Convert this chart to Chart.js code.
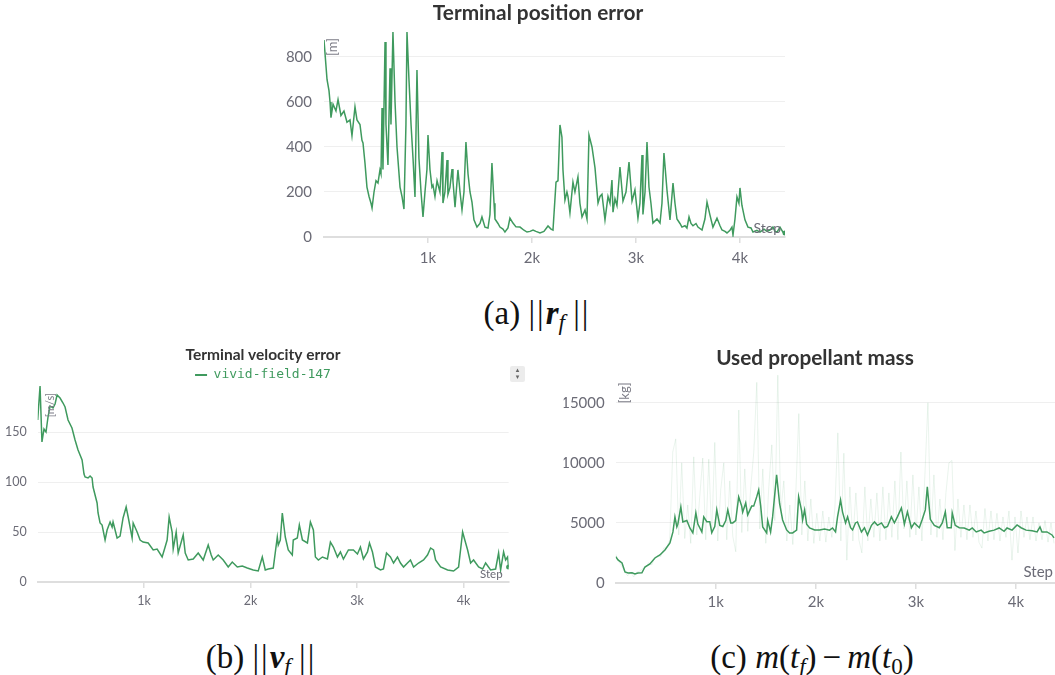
<!DOCTYPE html>
<html>
<head>
<meta charset="utf-8">
<script src="https://cdn.jsdelivr.net/npm/chart.js@4"></script>
<style>
  html, body { margin: 0; padding: 0; background: #fff; }
  body { width: 1055px; height: 675px; overflow: hidden; position: relative; }
  canvas { position: absolute; }
  .cap { position: absolute; text-align: center; font-family: "Liberation Serif", "DejaVu Serif", serif; font-size: 33px; color: #111; line-height: 36px; white-space: nowrap; }
  .cap sub { font-size: 0.7em; vertical-align: -0.25em; line-height: 0; }
  .cap .bars { letter-spacing: 2px; }
  .cap .op { margin: 0 6px; }
  .toggle { position: absolute; left: 510px; top: 366px; width: 15px; height: 16px; background: #ececec; border-radius: 2px;
            font: 7px/7px "DejaVu Sans", sans-serif; color: #666; text-align: center; padding-top: 1px; box-sizing: border-box; }
</style>
</head>
<body>
<canvas id="posChart" width="540" height="270" style="left:270px; top:0px"></canvas>
<canvas id="velChart" width="530" height="290" style="left:0px; top:335px"></canvas>
<canvas id="massChart" width="540" height="290" style="left:540px; top:335px"></canvas>
<div class="toggle">&#9652;<br>&#9662;</div>

<div class="cap" style="left:337px; top:295px; width:400px">(a) <span class="bars">||</span><b><i>r</i></b><sub><i>f</i></sub> <span class="bars">||</span></div>
<div class="cap" style="left:61px; top:639px; width:400px">(b) <span class="bars">||</span><b><i>v</i></b><sub><i>f</i></sub> <span class="bars">||</span></div>
<div class="cap" style="left:612px; top:639px; width:400px">(c) <i>m</i>(<i>t<sub>f</sub></i>)<span class="op">&minus;</span><i>m</i>(<i>t</i><sub>0</sub>)</div>

<script>
// ---- data ----
const stepTicks = [1000, 2000, 3000, 4000];

// terminal position error [m]
const posSteps = [0,29,48,58,67,87,115,135,163,192,221,250,269,298,317,346,365,375,394,413,433,452,462,481,500,519,538,548,558,567,587,596,615,635,644,663,683,702,731,750,769,788,798,817,837,856,875,894,913,933,952,971,990,1000,1019,1038,1048,1067,1087,1115,1135,1144,1163,1183,1192,1211,1231,1240,1260,1288,1308,1327,1346,1365,1385,1404,1423,1442,1471,1500,1519,1548,1577,1596,1615,1635,1644,1673,1692,1721,1740,1769,1788,1817,1846,1885,1923,1952,1981,2010,2038,2077,2115,2154,2183,2202,2231,2250,2269,2288,2298,2317,2336,2346,2365,2394,2413,2442,2461,2481,2510,2529,2548,2577,2606,2635,2654,2673,2702,2731,2750,2769,2779,2798,2817,2846,2875,2904,2933,2962,2990,3019,3038,3058,3067,3087,3106,3125,3144,3163,3202,3231,3250,3269,3298,3327,3356,3375,3394,3423,3442,3471,3490,3510,3529,3548,3577,3596,3635,3663,3683,3711,3740,3779,3808,3827,3856,3875,3904,3923,3933,3952,3971,3990,4000,4019,4048,4077,4106,4125,4163,4192,4231,4260,4288,4317,4337,4356,4385,4413,4433];
const posErr = [875,700,650,600,530,590,560,610,540,560,510,520,450,578,520,500,430,418,329,222,180,150,129,200,250,240,298,280,573,300,867,500,320,750,500,911,600,400,222,180,124,500,911,700,500,350,178,742,350,200,89,200,300,453,300,222,230,180,250,200,378,151,200,342,190,220,302,250,133,298,200,120,200,422,280,200,155,76,44,60,89,44,40,100,329,150,80,60,44,35,22,40,84,62,45,44,30,22,25,31,25,18,25,49,35,31,244,250,498,444,298,164,200,180,107,244,200,267,150,89,120,80,453,400,307,151,180,190,76,180,150,253,110,170,140,311,160,200,333,160,209,84,150,364,100,200,422,222,150,62,80,62,150,373,209,76,240,150,80,60,44,50,40,89,60,50,60,44,31,80,155,98,44,84,50,31,25,18,30,44,9,80,178,150,218,140,76,44,40,22,30,22,35,25,31,44,25,22,44,22,18];
const posTicks = [0, 200, 400, 600, 800];

// terminal velocity error [m/s]
const velSteps = [0,22,40,59,78,97,116,144,163,182,210,238,257,285,322,351,379,417,435,445,473,492,511,520,558,567,586,605,633,652,680,699,708,746,774,802,831,850,887,897,934,962,990,1038,1085,1122,1169,1197,1216,1235,1263,1273,1301,1320,1367,1386,1414,1461,1508,1555,1602,1630,1649,1696,1743,1790,1828,1875,1922,1969,2025,2072,2110,2138,2166,2213,2251,2260,2279,2298,2326,2354,2392,2401,2439,2458,2487,2534,2562,2590,2609,2637,2675,2722,2750,2778,2816,2844,2872,2919,2966,3004,3032,3060,3098,3117,3145,3173,3220,3248,3277,3314,3343,3380,3408,3437,3474,3502,3531,3578,3625,3662,3691,3719,3738,3785,3851,3907,3954,3992,4010,4039,4067,4095,4142,4180,4208,4255,4302,4330,4349,4377,4396,4415,4424];
const velErr = [162,196,140,153,150,165,176,174,178,187,184,179,175,162,154,142,132,122,108,105,104,106,104,95,79,69,59,57,42,52,60,55,60,44,46,64,75,65,44,59,50,42,40,39,32,33,25,35,42,65,50,33,50,29,47,29,22,23,29,22,37,27,22,27,22,15,20,15,16,14,12,11,25,12,13,14,45,37,42,69,45,32,27,42,44,57,42,39,60,52,25,22,25,23,40,35,25,30,23,32,32,28,35,23,30,39,30,15,12,13,29,25,19,25,19,15,19,22,15,19,22,27,34,32,22,15,12,11,15,50,43,32,19,22,15,13,19,12,13,29,12,30,22,25,15];
const velTicks = [0, 50, 100, 150];

// used propellant mass [kg], smoothed run plus raw samples
const massSteps = [0,23,63,93,123,163,192,222,262,292,342,392,442,492,542,572,592,611,621,651,671,711,741,771,801,821,861,880,910,940,960,990,1010,1040,1070,1100,1120,1150,1170,1199,1229,1259,1269,1299,1319,1359,1379,1409,1429,1449,1469,1509,1519,1548,1568,1608,1638,1668,1708,1738,1768,1808,1828,1858,1868,1888,1908,1938,1988,2037,2087,2137,2167,2197,2217,2247,2267,2297,2317,2347,2367,2396,2416,2456,2486,2516,2556,2586,2616,2656,2686,2716,2755,2785,2815,2855,2885,2915,2955,2985,3034,3064,3094,3114,3144,3184,3234,3264,3294,3313,3353,3363,3393,3433,3483,3533,3563,3603,3652,3682,3732,3782,3832,3881,3911,3961,4011,4051,4101,4161,4211,4240,4260,4310,4360,4380];
const massUsed = [2190,1917,1667,917,833,850,750,833,850,1333,1583,2083,2333,2750,3333,4250,5500,4667,4900,6333,5083,5200,4583,4167,5833,4900,4250,5500,5100,5100,4200,4700,6083,4800,4700,5200,6083,5000,5000,5200,7167,6400,5900,6667,5667,6400,6400,7167,7750,6400,4667,4167,5200,4250,5500,9000,6600,5250,4417,4167,4167,4400,7167,6000,5250,6083,4900,4583,4417,4417,4500,4400,4583,4250,5500,6917,5900,5000,5500,4600,4417,5000,5083,4250,4600,4000,4800,5083,4800,5000,4600,4700,5500,5000,5500,6250,4900,5917,4600,5000,4600,5300,6083,8000,5300,4800,4600,5000,5917,4600,4600,5833,4800,4600,4583,4400,4583,4250,4400,4167,4300,4400,4583,4300,4583,4400,4833,4600,4400,4350,4250,4667,4250,4250,4000,3750];
const massRawSteps = [0,30,60,90,120,150,180,210,240,270,300,330,360,390,420,450,480,510,540,570,600,630,660,690,720,750,780,810,840,870,900,930,960,990,1020,1050,1080,1110,1140,1170,1200,1230,1260,1290,1320,1350,1380,1410,1440,1470,1500,1530,1560,1590,1620,1650,1680,1710,1740,1770,1800,1830,1860,1890,1920,1950,1980,2010,2040,2070,2100,2130,2160,2190,2220,2250,2280,2310,2340,2370,2400,2430,2460,2490,2520,2550,2580,2610,2640,2670,2700,2730,2760,2790,2820,2850,2880,2910,2940,2970,3000,3030,3060,3090,3120,3150,3180,3210,3240,3270,3300,3330,3360,3390,3420,3450,3480,3510,3540,3570,3600,3630,3660,3690,3720,3750,3780,3810,3840,3870,3900,3930,3960,3990,4020,4050,4080,4110,4140,4170,4200,4230,4260,4290,4320,4350,4380];
const massRaw = [2400,1800,1400,900,600,900,500,900,1000,1200,1300,1700,1500,2100,2300,2200,2900,3000,3600,10900,12000,4000,10000,3700,6500,3300,10500,4000,7200,10400,3600,10300,4000,11700,3500,7800,10000,3600,8500,3900,2600,14400,4200,9500,4300,8000,10900,16700,4500,9500,3300,8000,11500,5200,17300,6000,8500,3500,6500,3200,7500,14100,4000,8500,3500,7000,3300,5800,3500,6000,3400,5500,3800,6200,12500,3500,10800,1900,8000,3500,7500,3600,2500,8000,3500,7000,3800,7500,3500,8000,3600,7500,3800,8500,3600,10900,4500,8500,3800,9000,4000,8000,3500,9000,15000,4000,9000,3800,7000,3600,7500,10000,10200,2700,7000,3800,6500,3600,6500,3800,6000,3400,2900,6200,3500,6000,3600,5800,3500,5500,3800,6000,1900,5500,2500,6000,3800,5500,3600,5500,3500,5000,3600,5200,3400,5000,3300];
const massTicks = [0, 5000, 10000, 15000];

// ---- styling ----
const GREEN = '#3f9a5e';
const GREEN_FAINT = 'rgba(63, 154, 94, 0.11)';
const TICK = '#6b6b76';
const FONT = 'Lato, "Noto Sans", sans-serif';

function pairs(xs, ys) {
  return xs.map((x, i) => ({ x: x, y: ys[i] }));
}

// unit label in the top-left corner and "Step" in the bottom-right corner of the plot
const axisNotes = {
  id: 'axisNotes',
  afterDraw(chart, args, o) {
    const ctx = chart.ctx;
    const a = chart.chartArea;
    ctx.save();
    ctx.fillStyle = '#7c7c86';
    ctx.font = o.unitSize + 'px ' + FONT;
    ctx.textAlign = 'center';
    ctx.textBaseline = 'middle';
    ctx.translate(a.left + o.unitX, a.top + o.unitY);
    ctx.rotate(-Math.PI / 2);
    ctx.fillText(o.unit, 0, 0);
    ctx.restore();

    ctx.save();
    ctx.fillStyle = TICK;
    ctx.font = o.stepSize + 'px ' + FONT;
    ctx.textAlign = 'right';
    ctx.textBaseline = 'middle';
    ctx.fillText('Step', a.right - o.stepX, a.bottom - o.stepY);
    ctx.restore();
  }
};

function lineSet(label, data, color, width, endDot) {
  return {
    label: label,
    data: data,
    borderColor: color,
    backgroundColor: color,
    borderWidth: width,
    tension: 0,
    pointRadius: endDot ? (c => c.dataIndex === data.length - 1 ? 1.5 : 0) : 0,
    pointBorderWidth: 2,
    pointBorderColor: color,
    pointHoverRadius: 0
  };
}

// left axis carries the tick labels, the empty right axis only reserves space
// so that the title sits where it should over the plot
function scales(o) {
  return {
    x: {
      type: 'linear',
      min: 0,
      max: o.xMax,
      afterBuildTicks: s => { s.ticks = stepTicks.map(v => ({ value: v })); },
      afterFit: s => { s.height = o.xHeight; },
      grid: { drawOnChartArea: false, drawTicks: true, tickLength: 6, color: '#dedede', lineWidth: 1.5 },
      border: { color: '#dedede', width: 2 },
      ticks: {
        color: TICK,
        font: { family: FONT, size: o.fontSize },
        padding: o.xPad,
        maxRotation: 0,
        autoSkip: false,
        callback: v => (v / 1000) + 'k'
      }
    },
    y: {
      min: 0,
      max: o.yMax,
      afterBuildTicks: s => { s.ticks = o.yTicks.map(v => ({ value: v })); },
      afterFit: s => { s.width = o.yWidth; },
      grid: { color: '#efefef', drawTicks: false, lineWidth: 1 },
      border: { display: false },
      ticks: {
        color: TICK,
        font: { family: FONT, size: o.fontSize },
        padding: o.yPad,
        callback: v => String(v)
      }
    },
    yRight: {
      position: 'right',
      grid: { display: false },
      border: { display: false },
      ticks: { display: false },
      afterFit: s => { s.width = o.rightWidth; }
    }
  };
}

function titleOpts(text, size, top, bottom) {
  return {
    display: true,
    text: text,
    color: '#333',
    font: { family: FONT, size: size, weight: 'bold' },
    padding: { top: top, bottom: bottom }
  };
}

// (a) terminal position error
new Chart(document.getElementById('posChart'), {
  type: 'line',
  data: { datasets: [lineSet('vivid-field-147', pairs(posSteps, posErr), GREEN, 1.5, true)] },
  options: {
    responsive: false,
    animation: false,
    devicePixelRatio: 1,
    layout: { padding: { left: 10, right: 14, top: 0, bottom: 0 } },
    scales: scales({ xMax: 4433, yMax: 920, yTicks: posTicks, xHeight: 33, yWidth: 44, rightWidth: 11, fontSize: 15, xPad: 6.5, yPad: 12 }),
    plugins: {
      title: titleOpts('Terminal position error', 20.8, 0.5, 4.5),
      legend: { display: false },
      tooltip: { enabled: false },
      axisNotes: { unit: '[m]', unitSize: 13, unitX: 9, unitY: 17, stepSize: 14, stepX: 4, stepY: 9 }
    }
  },
  plugins: [axisNotes]
});

// (b) terminal velocity error
new Chart(document.getElementById('velChart'), {
  type: 'line',
  data: { datasets: [lineSet('vivid-field-147', pairs(velSteps, velErr), GREEN, 1.5, true)] },
  options: {
    responsive: false,
    animation: false,
    devicePixelRatio: 1,
    layout: { padding: { left: 0, right: 4, top: 0, bottom: 0 } },
    scales: scales({ xMax: 4424, yMax: 197, yTicks: velTicks, xHeight: 43, yWidth: 37.7, rightWidth: 17.4, fontSize: 12.5, xPad: 5.75, yPad: 11 }),
    plugins: {
      title: titleOpts('Terminal velocity error', 15.5, 10.7, 2.2),
      legend: {
        display: true,
        maxHeight: 18.5,
        labels: {
          usePointStyle: true,
          pointStyle: 'line',
          pointStyleWidth: 12,
          padding: 2,
          color: GREEN,
          font: { family: '"DejaVu Sans Mono", monospace', size: 13 }
        }
      },
      tooltip: { enabled: false },
      axisNotes: { unit: '[m/s]', unitSize: 11, unitX: 13, unitY: 20, stepSize: 11.5, stepX: 6, stepY: 8 }
    }
  },
  plugins: [axisNotes]
});

// (c) used propellant mass
new Chart(document.getElementById('massChart'), {
  type: 'line',
  data: {
    datasets: [
      lineSet('vivid-field-147', pairs(massSteps, massUsed), GREEN, 1.5, false),
      lineSet('raw', pairs(massRawSteps, massRaw), GREEN_FAINT, 1, false)
    ]
  },
  options: {
    responsive: false,
    animation: false,
    devicePixelRatio: 1,
    layout: { padding: { left: 23.7, right: 13.7, top: 0, bottom: 0 } },
    scales: scales({ xMax: 4400, yMax: 17400, yTicks: massTicks, xHeight: 42, yWidth: 52, rightWidth: 10.3, fontSize: 15, xPad: 4.5, yPad: 11 }),
    plugins: {
      title: titleOpts('Used propellant mass', 20.8, 10.5, 3.5),
      legend: { display: false },
      tooltip: { enabled: false },
      axisNotes: { unit: '[kg]', unitSize: 13, unitX: 9, unitY: 19, stepSize: 15, stepX: 3, stepY: 11 }
    }
  },
  plugins: [axisNotes]
});
</script>
</body>
</html>
